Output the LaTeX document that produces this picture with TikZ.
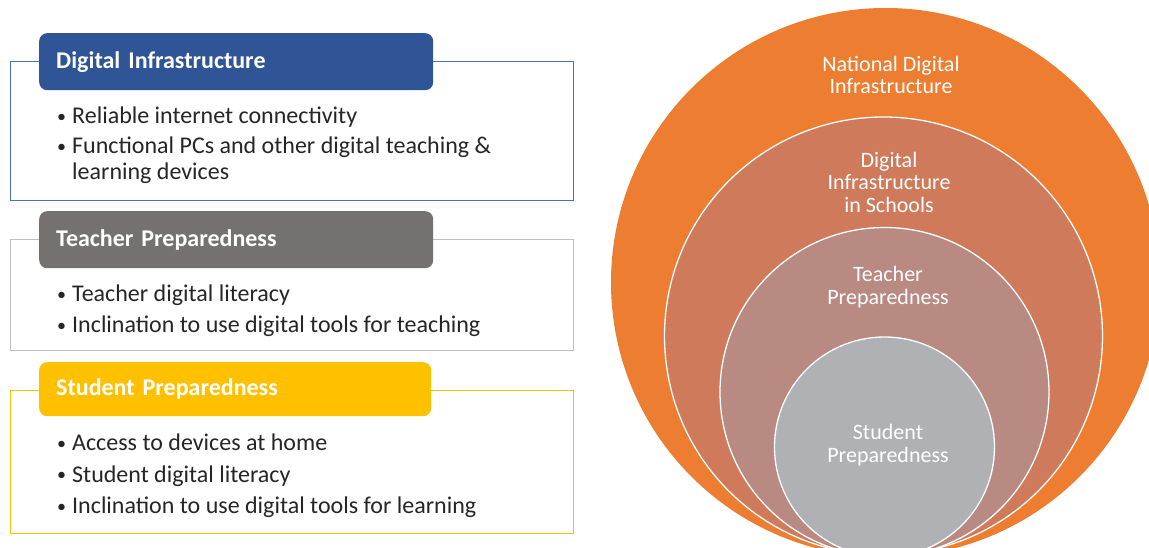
\documentclass[tikz,border=0pt]{standalone}
\usepackage{fontspec}
\setmainfont{Carlito}
\definecolor{diblue}{HTML}{2F5597}
\definecolor{diframe}{HTML}{4472C4}
\definecolor{tpgray}{HTML}{767171}
\definecolor{tpframe}{HTML}{BFBFBF}
\definecolor{spgold}{HTML}{FFC000}
\definecolor{ringA}{HTML}{ED7D31}
\definecolor{ringB}{HTML}{D07A5C}
\definecolor{ringC}{HTML}{B88A82}
\definecolor{ringD}{HTML}{B0B1B4}
\definecolor{bodytext}{HTML}{262626}
% small bullet followed by a fixed gap before the item text
\newcommand\bul{\makebox[15pt][l]{\raisebox{1.5pt}{\fontsize{18}{18}\selectfont\textbullet}}}
\begin{document}
\begin{tikzpicture}[x=1pt,y=-1pt,
  framebox/.style={draw, line width=1.2pt, fill=white, anchor=north west, inner sep=0pt},
  header/.style={rounded corners=8pt, minimum height=57pt, text width=360pt,
    inner xsep=17pt, inner ysep=0pt, align=left, anchor=north west, text=white,
    font=\fontsize{24}{28}\selectfont\bfseries},
  body/.style={anchor=north west, inner sep=0pt, align=left, text=bodytext,
    font=\fontsize{24}{26}\selectfont},
  ring/.style={circle, draw=white, line width=1.3pt, inner sep=0pt},
  ringtext/.style={text=white, align=center, inner sep=0pt,
    font=\fontsize{22}{22.5}\selectfont}]
\useasboundingbox (0,0) rectangle (1149,548);
\clip (0,0) rectangle (1149,548);

% nested circles
\node[ring, draw=none, fill=ringA, minimum size=549pt] (national) at (885.5,282.5) {};
\node[ring, fill=ringB, minimum size=438pt] (schools) at (883.5,336) {};
\node[ring, fill=ringC, minimum size=329pt] (teachers) at (884.5,392) {};
\node[ring, fill=ringD, minimum size=220pt] (students) at (884.5,447) {};

\node[ringtext] (nationaltxt) at (891,75) {National Digital\\Infrastructure};
\node[ringtext] (schoolstxt) at (889,182) {Digital\\Infrastructure\\in Schools};
\node[ringtext] (teacherstxt) at (888,287) {Teacher\\Preparedness};
\node[ringtext] (studentstxt) at (888,445) {Student\\Preparedness};

% digital infrastructure panel
\node[framebox, draw=diframe, minimum width=563pt, minimum height=139pt] (diframe) at (10,61) {};
\node[header, fill=diblue] (dihead) at (39,33) {Digital Infrastructure};
\node[body] (dibody) at (57,107) {\bul Reliable internet connectivity\\[4pt]
  \bul Functional PCs and other digital teaching \&\\
  \hspace*{15pt}learning devices};

% teacher preparedness panel
\node[framebox, draw=tpframe, minimum width=563pt, minimum height=111pt] (tpframe) at (10,239) {};
\node[header, fill=tpgray] (tphead) at (39,211) {Teacher Preparedness};
\node[body] (tpbody) at (57,285) {\bul Teacher digital literacy\\[5pt]
  \bul Inclination to use digital tools for teaching};

% student preparedness panel
\node[framebox, draw=spgold, minimum width=563pt, minimum height=143pt] (spframe) at (10,390) {};
\node[header, fill=spgold, minimum height=54pt, text width=358pt] (sphead) at (39,362) {Student Preparedness};
\node[body] (spbody) at (57,434) {\bul Access to devices at home\\[5.5pt]
  \bul Student digital literacy\\[5.5pt]
  \bul Inclination to use digital tools for learning};
\end{tikzpicture}
\end{document}
